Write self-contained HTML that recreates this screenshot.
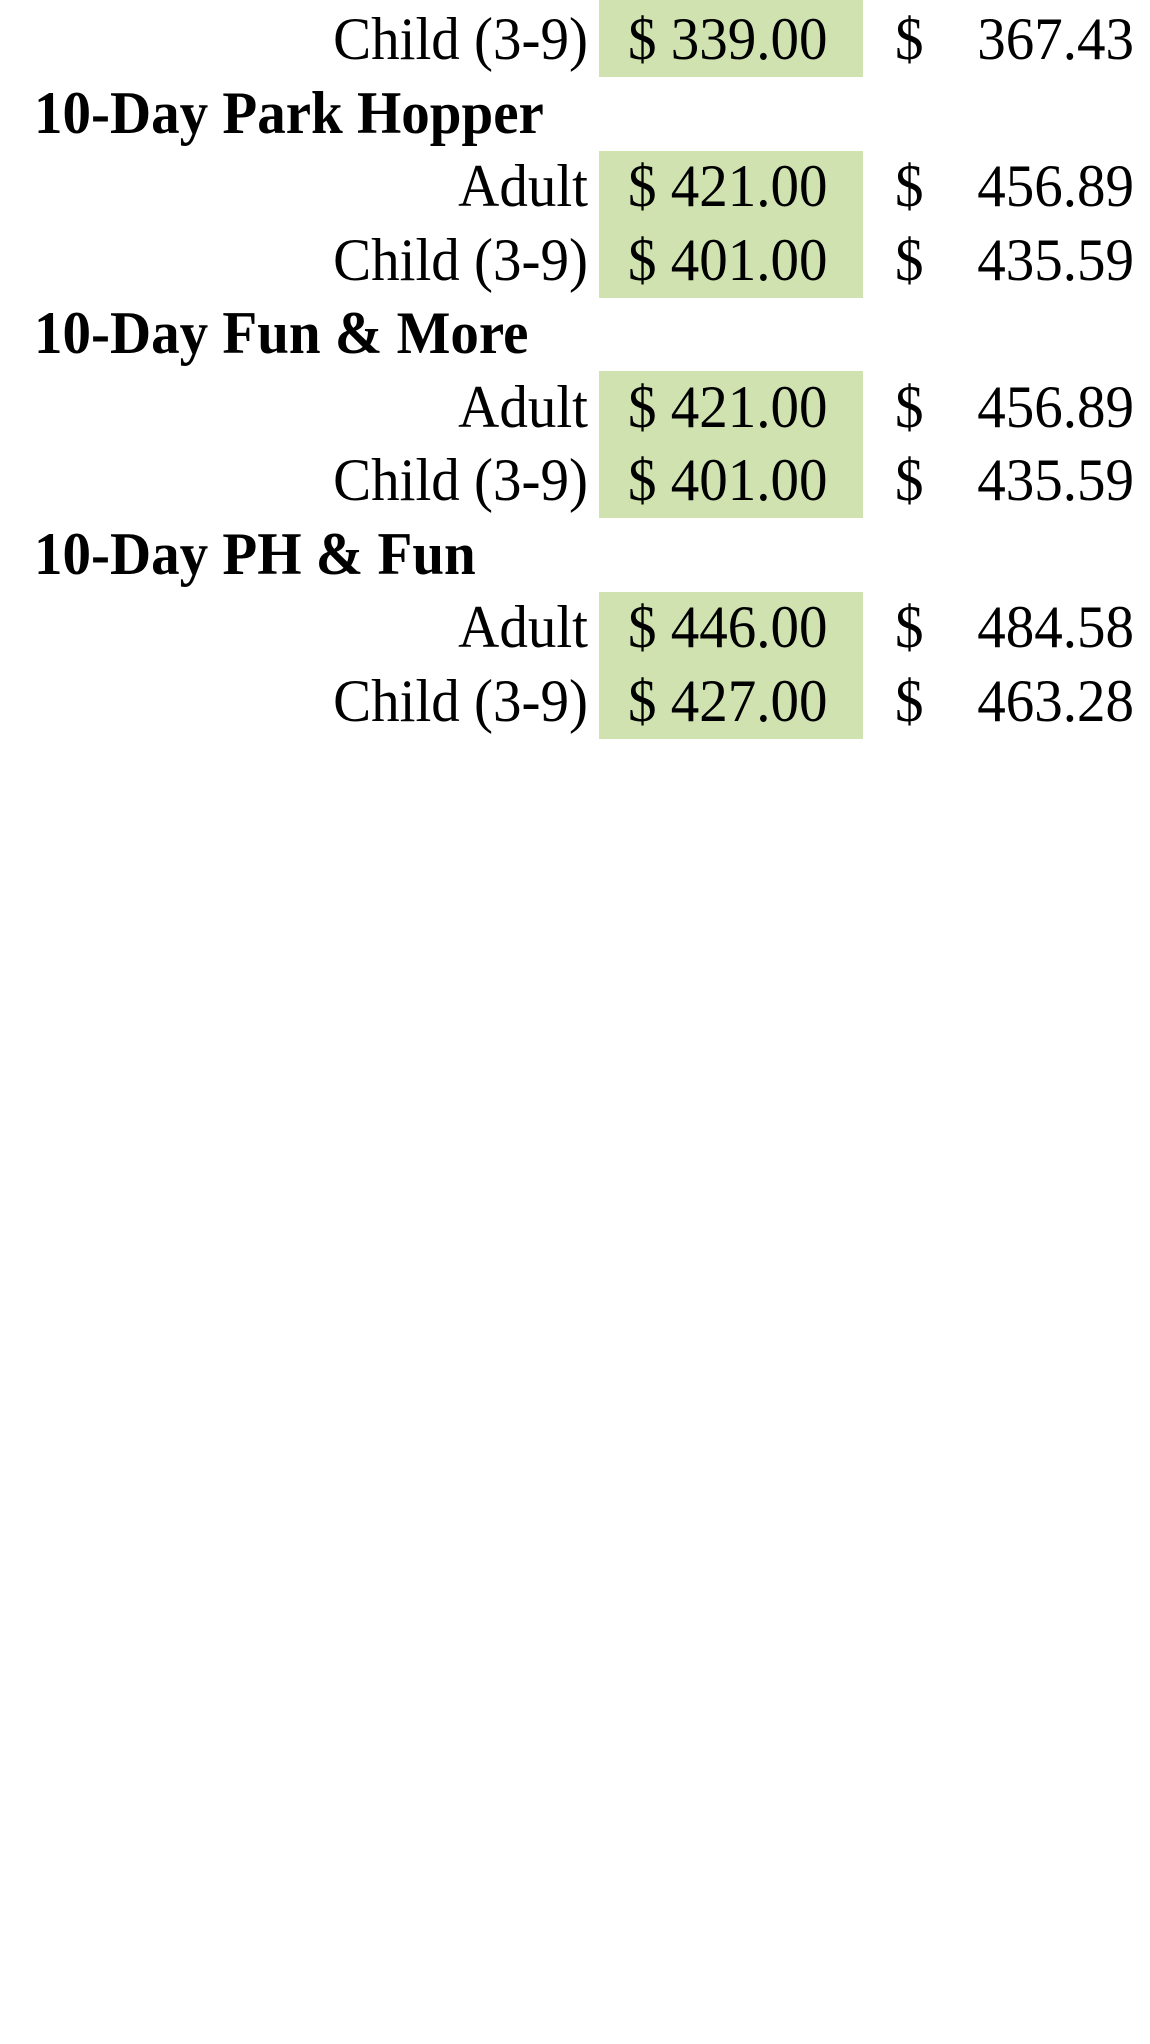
<!DOCTYPE html>
<html><head><meta charset="utf-8"><style>
html,body{margin:0;padding:0;background:#fff;}
#wrap{position:relative;width:1150px;height:2044px;overflow:hidden;font-family:"Liberation Serif",serif;color:#000;}
#table-bg{position:absolute;left:0;top:0;width:1150px;height:738px;background:#ffffff;}
.t{position:absolute;font-size:57px;line-height:1;white-space:nowrap;transform:scaleY(1.06);transform-origin:50% 89%;}
.g{position:absolute;background:#cfe2b0;left:599px;width:264px;}
</style></head><body>
<div id="wrap">
<div id="table-bg"></div>
</div>
<script>
const labels=["Child (3-9)","10-Day Park Hopper","Adult","Child (3-9)","10-Day Fun & More","Adult","Child (3-9)","10-Day PH & Fun","Adult","Child (3-9)"];
const isHeader=[false,true,false,false,true,false,false,true,false,false];
const prices=["339.00","","421.00","401.00","","421.00","401.00","","446.00","427.00"];
const totals=["367.43","","456.89","435.59","","456.89","435.59","","484.58","463.28"];
const wrap=document.getElementById('wrap');
function rowTop(i){return i===0?0:77+(i-1)*73.5;}
function rowBottom(i){return i===0?77:77+i*73.5;}
function txt(s,x,base,align,bold){
  const d=document.createElement('div');
  d.className='t';
  d.textContent=s;
  d.style.top=(base-0.891*57)+'px';
  if(align==='right'){d.style.right=(1150-x)+'px';}else{d.style.left=x+'px';}
  if(bold)d.style.fontWeight='bold';
  wrap.appendChild(d);
  return d;
}
for(let i=0;i<labels.length;i++){
  const base=rowBottom(i)-14;
  if(isHeader[i]){
    const h=txt(labels[i],34,base,'left',true);
    
    
    continue;
  }
  const g=document.createElement('div');
  g.className='g';
  g.style.top=rowTop(i)+'px';
  g.style.height=(rowBottom(i)-rowTop(i))+'px';
  
  
  wrap.appendChild(g);
  const l=txt(labels[i],588,base,'right',false);
  
  
  const p=txt('$ '+prices[i],628,base,'left',false);
  
  
  const s=txt('$',895,base,'left',false);
  
  
  const v=txt(totals[i],1134,base,'right',false);
  
  
}
</script>
</body></html>
